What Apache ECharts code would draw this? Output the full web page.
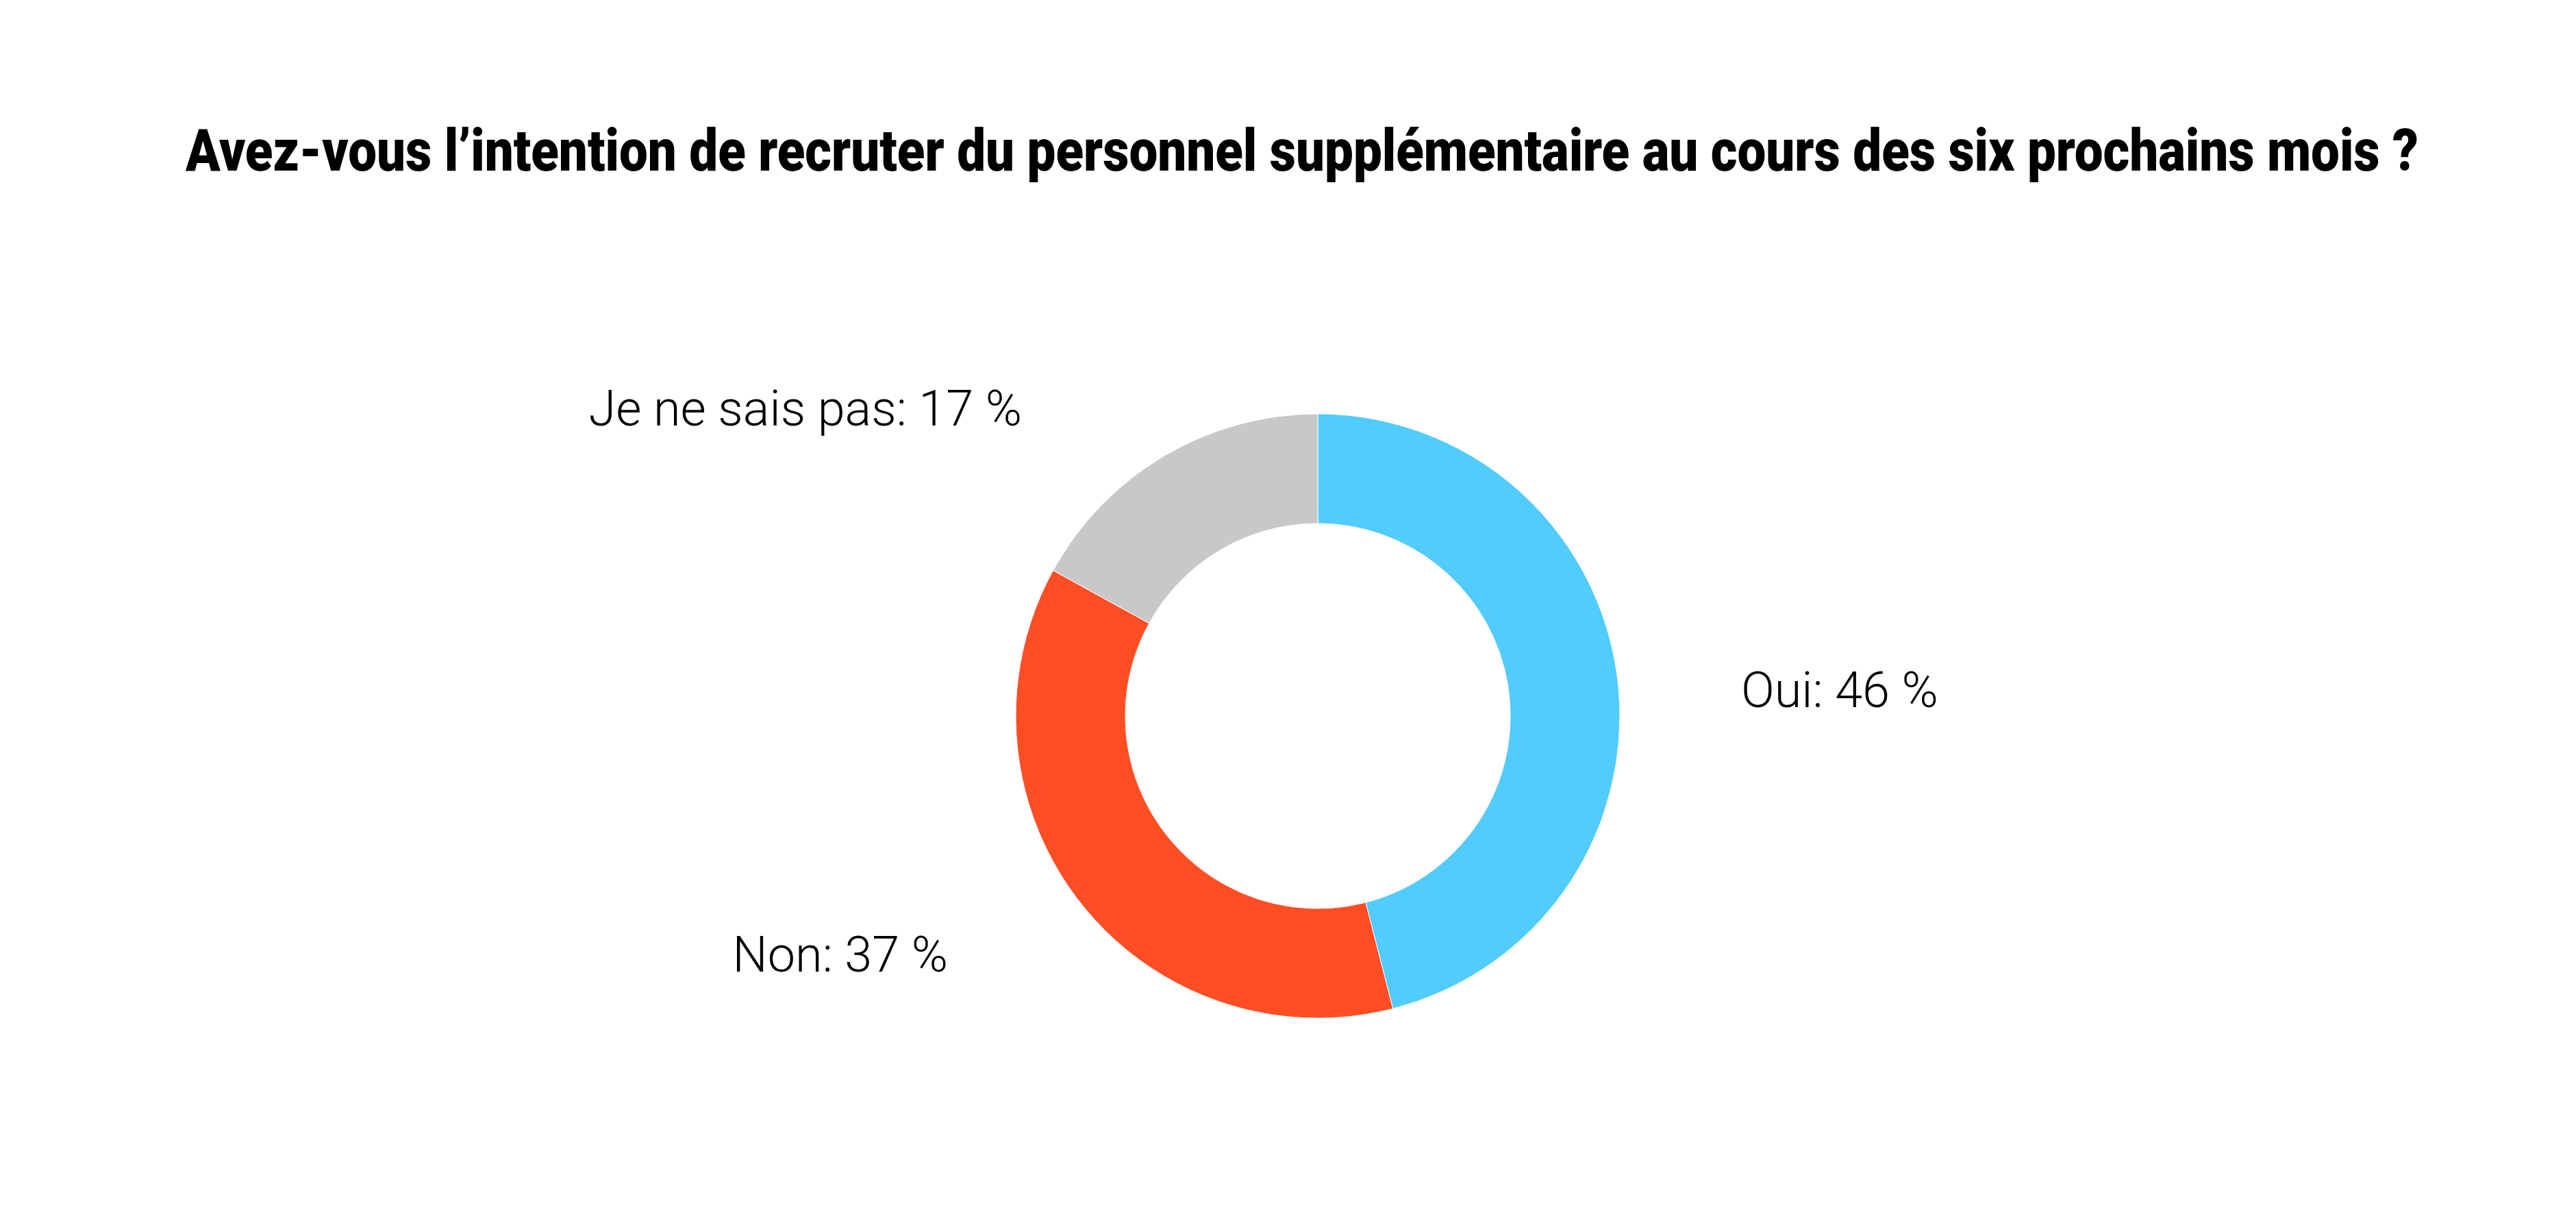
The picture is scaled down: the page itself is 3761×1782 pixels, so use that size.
<!DOCTYPE html>
<html>
<head>
<meta charset="utf-8">
<script src="https://cdn.jsdelivr.net/npm/echarts@6/dist/echarts.min.js"></script>
<style>
html,body{margin:0;padding:0;background:#fff;}
#chart{width:3761px;height:1782px;}
</style>
</head>
<body>
<div id="chart"></div>
<script>
const titleText = 'Avez-vous l\u2019intention de recruter du personnel supplémentaire au cours des six prochains mois ?';
const categories = ['Oui', 'Non', 'Je ne sais pas'];
const values = [46, 37, 17];
const colors = ['#52CBFD', '#FF4D24', '#C8C8C8'];

const TITLE_FONT = "Roboto, 'Liberation Sans', sans-serif";
const LABEL_FONT = "Roboto, 'Liberation Sans', sans-serif";
const cx = 1924, cy = 1045;
const titleSize = 85, titleWeight = 900, titleWidth = 3260;

// measure title to condense it horizontally to the reference width
const mctx = document.createElement('canvas').getContext('2d');
mctx.font = titleWeight + ' ' + titleSize + 'px ' + TITLE_FONT;
const titleScaleX = titleWidth / mctx.measureText(titleText).width;

// label anchor offsets relative to the pie centre (layout only)
const labelPlacement = [
  { dx: 618, dy: -31, align: 'left' },
  { dx: -540, dy: 355, align: 'right' },
  { dx: -432, dy: -442, align: 'right' }
];

const chart = echarts.init(document.getElementById('chart'), null, { renderer: 'canvas' });
chart.setOption({
  backgroundColor: '#ffffff',
  animation: false,
  graphic: [{
    type: 'text',
    x: 1901,
    y: 228,
    scaleX: titleScaleX,
    silent: true,
    style: {
      text: titleText,
      fontFamily: TITLE_FONT,
      fontWeight: titleWeight,
      fontSize: titleSize,
      fill: '#000',
      align: 'center',
      verticalAlign: 'middle'
    }
  }],
  series: [{
    type: 'pie',
    center: [cx, cy],
    radius: [281, 441],
    startAngle: 90,
    clockwise: true,
    silent: true,
    data: categories.map((c, i) => ({ name: c, value: values[i], itemStyle: { color: colors[i] } })),
    itemStyle: { borderColor: '#fff', borderWidth: 1 },
    label: {
      show: true,
      position: 'outside',
      formatter: p => p.name + ': ' + p.value + ' %',
      fontFamily: LABEL_FONT,
      fontWeight: 300,
      fontSize: 72,
      color: '#000'
    },
    labelLine: { show: false },
    labelLayout: function (params) {
      const pl = labelPlacement[params.dataIndex];
      return { x: cx + pl.dx, y: cy + pl.dy, align: pl.align, verticalAlign: 'middle' };
    }
  }]
});
</script>
</body>
</html>
